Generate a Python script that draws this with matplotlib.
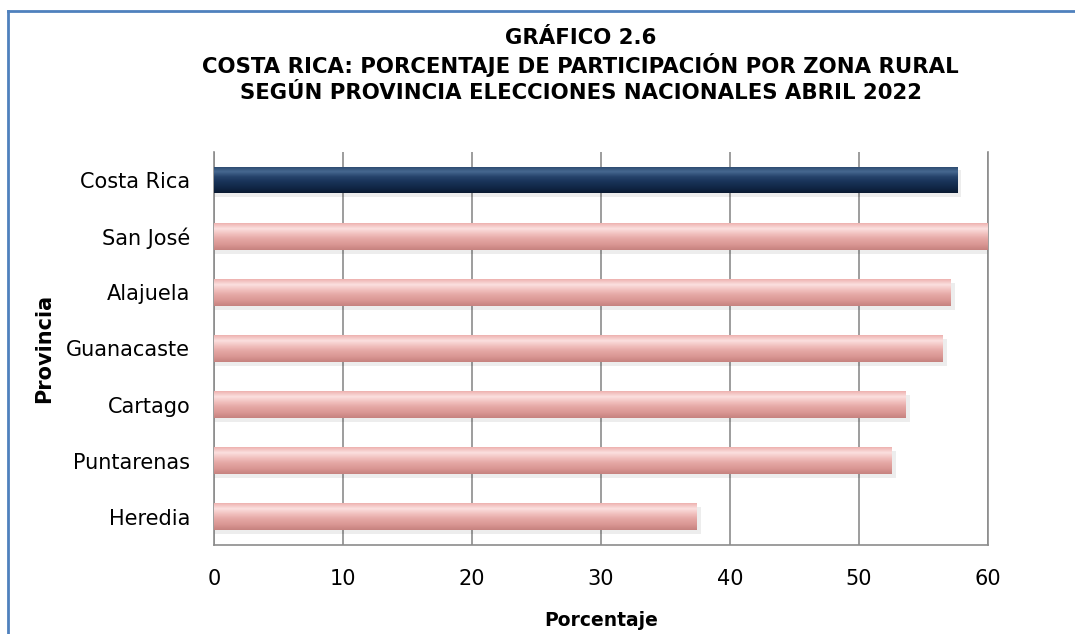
import matplotlib.pyplot as plt
import matplotlib.colors as mcolors
import numpy as np
from matplotlib.patches import Rectangle

provincias = ["Costa Rica", "San José", "Alajuela", "Guanacaste",
              "Cartago", "Puntarenas", "Heredia"]
porcentajes = [57.6, 60.0, 57.1, 56.5, 53.6, 52.5, 37.4]
x_ticks = [0, 10, 20, 30, 40, 50, 60]

title_lines = ["GRÁFICO 2.6",
               "COSTA RICA: PORCENTAJE DE PARTICIPACIÓN POR ZONA RURAL",
               "SEGÚN PROVINCIA ELECCIONES NACIONALES ABRIL 2022"]

plt.rcParams['font.family'] = ['DejaVu Sans']

fig = plt.figure(figsize=(10.75, 6.34), dpi=100)
ax = fig.add_axes([0.199, 0.1404, 0.72, 0.62])

# blue frame around the chart (cut at right and bottom like the source)
fig.add_artist(plt.Line2D([0.0075, 0.0075], [0.0, 0.983], transform=fig.transFigure,
                          color='#4F81BD', lw=2))
fig.add_artist(plt.Line2D([0.0075, 1.0], [0.983, 0.983], transform=fig.transFigure,
                          color='#4F81BD', lw=2))

# top -> bottom shading of the bars
pink = mcolors.LinearSegmentedColormap.from_list(
    'pink', ['#eeb2b0', '#fbe0df', '#f1c0be', '#e4a6a3', '#da9794', '#c6827f'])
navy = mcolors.LinearSegmentedColormap.from_list(
    'navy', ['#2a476c', '#466890', '#25426a', '#183257', '#112747', '#0a1a31'])

bar_h = 0.48
grad = np.linspace(0, 1, 64).reshape(-1, 1)
for i, (name, val) in enumerate(zip(provincias, porcentajes)):
    cmap = navy if i == 0 else pink
    # soft shadow
    ax.add_patch(Rectangle((0, i - bar_h / 2 + 0.07), val + 0.35, bar_h,
                           facecolor='#000000', alpha=0.07, edgecolor='none', zorder=2))
    bar = ax.barh(i, val, height=bar_h, color='none', edgecolor='none', zorder=3)[0]
    im = ax.imshow(grad, cmap=cmap, aspect='auto', zorder=3,
                   extent=[0, val, i + bar_h / 2, i - bar_h / 2], origin='upper')
    im.set_clip_path(bar)

ax.set_xlim(0, 60)
ax.set_ylim(6.5, -0.5)
ax.set_yticks(range(len(provincias)))
ax.set_yticklabels(provincias, fontsize=15)
ax.set_xticks(x_ticks)
ax.set_xticklabels([str(t) for t in x_ticks], fontsize=15)
ax.tick_params(length=0)
ax.tick_params(axis='y', pad=17)
ax.tick_params(axis='x', pad=17)

ax.grid(axis='x', color='#8c8c8c', lw=1.2, zorder=1)
ax.set_axisbelow(True)
ax.spines['top'].set_visible(False)
for side in ['left', 'bottom', 'right']:
    ax.spines[side].set_color('#8c8c8c')
    ax.spines[side].set_linewidth(1.2)

ax.set_xlabel("Porcentaje", fontsize=13.5, fontweight='bold', labelpad=16)
ax.set_ylabel("Provincia", fontsize=15, fontweight='bold', labelpad=9)

for k, line in enumerate(title_lines):
    fig.text(0.54, 0.94 - k * 0.043, line, ha='center', va='center',
             fontsize=15.3, fontweight='bold')

fig.savefig("out.png", dpi=100)
